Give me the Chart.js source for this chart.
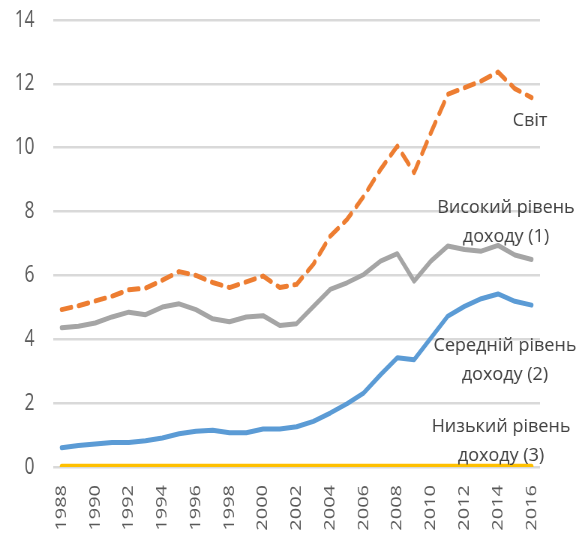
<!DOCTYPE html>
<html>
<head>
<meta charset="utf-8">
<script src="https://cdn.jsdelivr.net/npm/chart.js@4.4.0/dist/chart.umd.min.js"></script>
<style>
  html, body { margin: 0; padding: 0; background: #fff; overflow: hidden; }
  /* the source picture is squeezed sideways, so the chart is drawn wider and squeezed back */
  #wrap { width: 771px; height: 533px; transform: scaleX(0.75); transform-origin: 0 0; }
</style>
</head>
<body>
<div id="wrap"><canvas id="chart" width="771" height="533"></canvas></div>
<script>
"use strict";
const SQUEEZE = 0.75;
const YEARS = [
  "1988", "1989", "1990", "1991", "1992", "1993", "1994", "1995", "1996", "1997",
  "1998", "1999", "2000", "2001", "2002", "2003", "2004", "2005", "2006", "2007",
  "2008", "2009", "2010", "2011", "2012", "2013", "2014", "2015", "2016",
];
const WORLD = [
  4.93, 5.05, 5.2, 5.35, 5.55, 5.6, 5.85, 6.12, 6.0, 5.78,
  5.62, 5.8, 5.98, 5.62, 5.72, 6.35, 7.23, 7.75, 8.48, 9.32,
  10.05, 9.22, 10.47, 11.67, 11.88, 12.09, 12.37, 11.85, 11.57,
];
const HIGH = [
  4.36, 4.41, 4.51, 4.7, 4.85, 4.77, 5.01, 5.11, 4.93, 4.64,
  4.55, 4.7, 4.74, 4.43, 4.49, 5.03, 5.56, 5.77, 6.03, 6.45,
  6.68, 5.82, 6.45, 6.92, 6.81, 6.76, 6.94, 6.64, 6.5,
];
const MIDDLE = [
  0.6, 0.67, 0.72, 0.77, 0.77, 0.82, 0.91, 1.04, 1.12, 1.15,
  1.07, 1.07, 1.19, 1.19, 1.26, 1.43, 1.69, 1.98, 2.32, 2.89,
  3.42, 3.36, 4.04, 4.72, 5.03, 5.27, 5.42, 5.19, 5.07,
];
const LOW = [
  0.02, 0.02, 0.02, 0.02, 0.02, 0.02, 0.02, 0.02, 0.02, 0.02,
  0.02, 0.02, 0.02, 0.02, 0.02, 0.02, 0.02, 0.02, 0.02, 0.02,
  0.02, 0.02, 0.02, 0.02, 0.02, 0.02, 0.02, 0.02, 0.02,
];
const SERIES_NAMES = ["Світ", "Високий рівень доходу (1)", "Середній рівень доходу (2)", "Низький рівень доходу (3)"];
const X_TICKS = ["1988", "1990", "1992", "1994", "1996", "1998", "2000", "2002", "2004", "2006", "2008", "2010", "2012", "2014", "2016"];

const FONT = "'Open Sans', sans-serif";
const TEXT_GREY = "rgb(89,89,89)";

// labels next to the lines (x, y in page pixels)
const LABEL_LINES = [
  { text: ["Світ"], x: 530, y: 121 },
  { text: ["Високий рівень", "доходу (1)"], x: 506, y: 208 },
  { text: ["Середній рівень", "доходу (2)"], x: 505, y: 346 },
  { text: ["Низький рівень", "доходу (3)"], x: 501, y: 427 },
];

const lineLabels = {
  id: "lineLabels",
  afterDatasetsDraw(chart) {
    const ctx = chart.ctx;
    ctx.save();
    // undo the squeeze so these read at their normal width
    ctx.scale(1 / SQUEEZE, 1);
    ctx.font = "18px " + FONT;
    ctx.fillStyle = "rgb(64,64,64)";
    ctx.textAlign = "center";
    ctx.textBaseline = "middle";
    LABEL_LINES.forEach((lab) => {
      lab.text.forEach((t, i) => {
        ctx.fillText(t, lab.x, lab.y + i * 29);
      });
    });
    ctx.restore();
  },
};

const ctx = document.getElementById("chart").getContext("2d");
const myChart = new Chart(ctx, {
  type: "line",
  data: {
    labels: YEARS,
    datasets: [
      {
        label: SERIES_NAMES[3],
        data: LOW,
        borderColor: "#FFC000",
        borderWidth: 5,
      },
      {
        label: SERIES_NAMES[2],
        data: MIDDLE,
        borderColor: "#5B9BD5",
        borderWidth: 5,
      },
      {
        label: SERIES_NAMES[1],
        data: HIGH,
        borderColor: "#A5A5A5",
        borderWidth: 5,
      },
      {
        label: SERIES_NAMES[0],
        data: WORLD,
        borderColor: "#ED7D31",
        borderWidth: 5,
        borderDash: [13, 10],
        borderCapStyle: "round",
      },
    ],
  },
  options: {
    responsive: false,
    animation: false,
    layout: { padding: { top: 20, right: 51, left: 0, bottom: 0 } },
    elements: {
      point: { radius: 0 },
      line: { tension: 0, borderJoinStyle: "round", borderCapStyle: "round" },
    },
    plugins: {
      legend: { display: false },
      tooltip: { enabled: false },
    },
    scales: {
      x: {
        offset: true,
        grid: { display: false, drawTicks: false },
        border: { display: false },
        ticks: {
          autoSkip: false,
          maxRotation: 90,
          minRotation: 90,
          color: TEXT_GREY,
          font: { size: 20, family: FONT },
          padding: 18,
          callback: function (val) {
            const lab = this.getLabelForValue(val);
            return X_TICKS.includes(lab) ? lab : "";
          },
        },
        afterFit(scale) {
          scale.height = 66;
        },
      },
      y: {
        min: 0,
        max: 14,
        ticks: {
          stepSize: 2,
          color: TEXT_GREY,
          font: { size: 23, family: FONT },
          padding: 25,
        },
        grid: { color: "#D9D9D9", lineWidth: 2.5, drawTicks: false },
        border: { display: false },
        afterFit(scale) {
          scale.width = 71;
          // the big label gap should not push the plot down
          scale.paddingTop = 14;
          scale.paddingBottom = 14;
        },
      },
    },
  },
  plugins: [lineLabels],
});
</script>
</body>
</html>
